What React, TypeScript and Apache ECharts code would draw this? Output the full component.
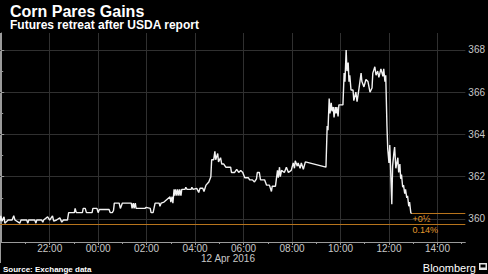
import React, { useEffect, useRef } from 'react';
import * as echarts from 'echarts';

// time = minutes since 11 Apr 2016 20:00
const times = [
  -3, -1, 2, 7, 9, 17, 27, 31, 34, 46, 49, 63, 66, 68, 83, 86, 88, 100, 103, 105, 115, 120, 127, 130, 137, 145, 150, 154, 164,
  167, 181, 183, 186, 201, 203, 208, 211, 225, 227, 237, 240, 243, 267, 270, 275, 278,
  280, 292, 295, 300, 322, 324, 327, 329, 332, 334, 356, 359, 369, 371, 376, 381, 391, 393, 396, 403, 418, 420, 423, 425,
  428, 430, 432, 435, 437, 440, 442, 445, 447, 455, 457, 460, 470, 472, 475, 484, 489, 492, 499, 502, 507,
  514, 519, 521, 526, 529, 531, 536, 538, 543, 546, 551, 556, 568, 570, 578, 583, 588, 593, 598, 603, 612, 615, 622, 627,
  632, 634, 639, 642, 652, 657, 664, 669, 671, 679, 684, 686, 689, 691, 694, 701, 706, 711, 718, 723, 726, 728, 733, 735,
  740, 743, 748, 753, 804,
  807, 809, 812, 814, 817, 819, 822, 824, 827, 829, 831, 834, 836, 846, 849, 851, 854, 856, 859, 861, 863, 866, 871, 873,
  878, 881, 886, 891, 893, 898, 903, 908, 913, 918, 920, 925, 928, 932, 935, 940, 945, 947, 950, 952, 955, 957, 960, 962,
  964, 967, 969, 972, 974, 977, 982, 984, 987, 989, 991, 994, 996, 999, 1001, 1004, 1006, 1009, 1011, 1014, 1016,
];
const prices = [
  359.9, 360.15, 359.9, 360.1, 359.8, 359.95, 359.95, 360.15, 359.95, 359.8, 359.95, 359.95, 359.8, 359.95, 359.95, 359.8, 359.95, 359.95, 359.85, 359.95, 360.1, 359.95, 360.15, 359.9, 359.95, 360.05, 359.85, 359.95, 359.95,
  360.3, 360.3, 360.5, 360.3, 360.3, 360.5, 360.5, 360.3, 360.3, 360.5, 360.5, 360.3, 360.45, 360.45, 360.3, 360.3, 360.4,
  360.75, 360.75, 360.5, 360.75, 360.75, 360.5, 360.75, 360.5, 360.75, 360.5, 360.5, 360.55, 360.5, 360.3, 360.3, 360.75, 360.75, 360.6, 360.75, 360.8, 361.05, 360.8, 361.05, 360.75,
  361.4, 361.1, 361.4, 361.1, 361.4, 361.1, 361.4, 361.1, 361.4, 361.4, 361.5, 361.4, 361.4, 361.5, 361.4, 361.45, 361.25, 361.45, 361.45, 361.3, 361.6,
  361.75, 362.0, 362.8, 362.8, 363.2, 362.8, 363.1, 362.7, 362.9, 362.6, 362.6, 362.45, 362.45, 362.2, 362.2, 362.35, 362.2, 362.3, 362.2, 361.95, 361.95, 361.85, 361.85, 361.75,
  361.9, 362.2, 362.2, 361.85, 361.85, 361.6, 361.6, 361.3, 361.55, 361.55, 362.3, 361.95, 362.45, 362.0, 362.3, 362.2, 362.45, 362.2, 362.3, 362.65, 362.4, 362.75, 362.5, 362.65,
  362.4, 362.65, 362.35, 362.7, 362.45,
  364.4, 364.2, 365.7, 365.0, 365.5, 365.1, 365.3, 364.8, 365.3, 365.0, 365.3, 364.85, 365.4, 365.4, 366.9, 366.5, 368.0, 367.0, 367.4, 366.5, 366.8, 366.1, 366.1, 365.6,
  366.0, 365.55, 366.2, 366.9, 366.5, 366.25, 366.6, 366.5, 366.0, 366.2, 366.9, 367.2, 366.8, 367.0, 366.7, 367.1, 366.75, 367.1, 366.5, 366.8, 364.4, 363.3, 362.65, 363.5,
  362.4, 360.7, 362.5, 363.1, 363.4, 362.4, 362.9, 362.2, 362.6, 361.9, 362.1, 361.5, 361.6, 361.2, 361.4, 361.0, 361.1, 360.6, 360.8, 360.3, 360.25,
];

const yTicks = [360, 362, 364, 366, 368];
const yMinorTicks = [361, 363, 365, 367];
const xTicks = [120, 240, 360, 480, 600, 720, 840, 960, 1080];
const xMinorTicks = [60, 180, 300, 420, 540, 660, 780, 900, 1020, 1140];
const prevClose = 359.75;
const lastPrice = 360.25;
const changeText = '+0½';
const changePct = '0.14%';
const title = 'Corn Pares Gains';
const subtitle = 'Futures retreat after USDA report';
const dateLabel = '12 Apr 2016';
const source = 'Source: Exchange data';

const FONT = '"Liberation Sans", Arial, sans-serif';
const X_MIN = -3;
const X_MAX = 1149;
const Y_MIN = 358.91;
const Y_MAX = 368.8;

function fmtTime(v: number): string {
  const h = Math.round(20 + v / 60) % 24;
  return (h < 10 ? '0' : '') + h + ':00';
}

export default function App() {
  const ref = useRef<HTMLDivElement>(null);
  useEffect(() => {
    document.body.style.margin = '0';
    document.body.style.background = '#000';
    if (!ref.current) return;
    const chart = echarts.init(ref.current, undefined, { renderer: 'svg' });
    const data = times.map((t, i) => [t, prices[i]]);
    const lastT = times[times.length - 1];
    const axisColor = '#9a9a9a';
    const gridColor = '#303030';
    chart.setOption({
      animation: false,
      backgroundColor: '#000',
      grid: { left: 0, right: 20, top: 33, bottom: 32, containLabel: false },
      xAxis: [
        {
          type: 'value', min: X_MIN, max: X_MAX, position: 'bottom',
          axisLine: { show: true, lineStyle: { color: axisColor, width: 1 } },
          axisTick: { show: true, customValues: xTicks, length: 3, lineStyle: { color: axisColor } },
          axisLabel: { customValues: xTicks, formatter: (v: number) => fmtTime(v), color: '#c8c8c8', fontSize: 10, margin: 1, fontFamily: FONT },
          splitLine: { show: true, lineStyle: { color: gridColor, width: 1 } },
        },
        {
          type: 'value', min: X_MIN, max: X_MAX, position: 'bottom',
          axisLine: { show: false },
          axisTick: { show: true, customValues: xMinorTicks, length: 2, lineStyle: { color: axisColor } },
          axisLabel: { show: false },
          splitLine: { show: false },
        },
      ],
      yAxis: [
        {
          type: 'value', min: Y_MIN, max: Y_MAX, position: 'right',
          axisLine: { show: true, lineStyle: { color: axisColor, width: 1 } },
          axisTick: { show: true, customValues: yTicks, length: 3, lineStyle: { color: axisColor } },
          axisLabel: { customValues: yTicks, color: '#c8c8c8', fontSize: 10, margin: 3, fontFamily: FONT, formatter: (v: number) => String(Math.round(v)) },
          splitLine: { show: true, lineStyle: { color: gridColor, width: 1 } },
        },
        {
          type: 'value', min: Y_MIN, max: Y_MAX, position: 'right',
          axisLine: { show: false },
          axisTick: { show: true, customValues: yMinorTicks, length: 2, lineStyle: { color: axisColor } },
          axisLabel: { show: false },
          splitLine: { show: false },
        },
      ],
      series: [
        {
          type: 'line',
          xAxisIndex: 0,
          yAxisIndex: 0,
          data,
          showSymbol: false,
          symbol: 'none',
          lineStyle: { color: '#f2f2f2', width: 1.4 },
          z: 5,
          markLine: {
            silent: true,
            symbol: ['none', 'none'],
            label: { show: false },
            lineStyle: { color: '#b8741c', width: 1, type: 'solid' },
            data: [
              { yAxis: prevClose },
              [{ coord: [lastT, lastPrice] }, { coord: [X_MAX, lastPrice] }],
            ],
          },
          markPoint: {
            silent: true,
            symbol: 'circle',
            symbolSize: 0,
            data: [
              { coord: [lastT + 2, 359.99], value: changeText, label: { formatter: changeText } },
              { coord: [lastT + 2, 359.47], value: changePct, label: { formatter: changePct } },
            ],
            label: { show: true, position: 'inside', align: 'left', verticalAlign: 'middle', color: '#e39a2e', fontSize: 9, fontFamily: FONT },
          },
        },
      ],
      graphic: [
        { type: 'text', left: 10, top: 3, style: { text: title, fill: '#ffffff', font: `bold 16px ${FONT}` } },
        { type: 'text', left: 10, top: 19, style: { text: subtitle, fill: '#ffffff', font: `bold 12px ${FONT}` } },
        { type: 'text', x: 228, y: 258, style: { text: dateLabel, fill: '#c8c8c8', font: `10px ${FONT}`, align: 'center', verticalAlign: 'middle' } },
        { type: 'text', x: 3, y: 269, style: { text: source, fill: '#ffffff', font: `bold 8px ${FONT}`, verticalAlign: 'middle' } },
        { type: 'text', x: 476, y: 268, style: { text: 'Bloomberg', fill: '#ffffff', font: `11px ${FONT}`, align: 'right', verticalAlign: 'middle' } },
        { type: 'rect', shape: { x: 479, y: 263, width: 8, height: 7 }, style: { fill: '#e6e6e6' } },
        { type: 'rect', shape: { x: 480.5, y: 264.5, width: 5, height: 3 }, style: { fill: '#000' } },
        { type: 'line', shape: { x1: 0.5, y1: 33, x2: 0.5, y2: 263 }, style: { stroke: axisColor, lineWidth: 1 } },
      ],
    });
    return () => chart.dispose();
  }, []);
  return <div ref={ref} style={{ width: 488, height: 274, background: '#000' }} />;
}
